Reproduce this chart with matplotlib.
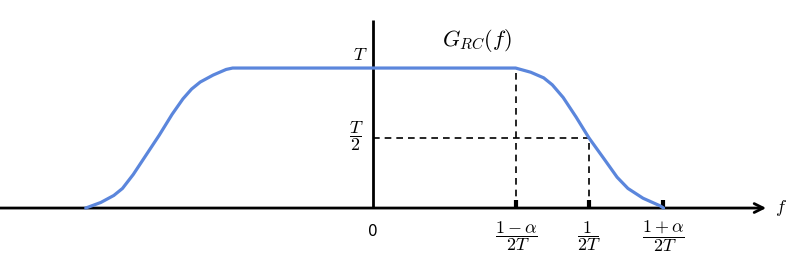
import matplotlib
matplotlib.use('Agg')
import matplotlib.pyplot as plt

plt.rcParams['mathtext.fontset'] = 'cm'

# spectrum G_RC(f), f in units of 1/(2T), G in units of T
curve_f = [-1.33, -1.26, -1.20, -1.16, -1.11, -1.05, -0.99, -0.93, -0.88,
           -0.84, -0.80, -0.74, -0.68, -0.65,
           0.66, 0.73, 0.79, 0.83, 0.88, 0.94, 1.00, 1.07, 1.13, 1.18,
           1.25, 1.33, 1.345]
curve_g = [0.0, 0.04, 0.09, 0.14, 0.24, 0.38, 0.52, 0.67, 0.78,
           0.85, 0.90, 0.95, 0.99, 1.0,
           1.0, 0.97, 0.93, 0.88, 0.79, 0.65, 0.50, 0.35, 0.22, 0.14,
           0.07, 0.015, 0.0]

tick_pos = [0.662, 1.0, 1.343]
tick_labels = [r'$\dfrac{1-\alpha}{2T}$', r'$\dfrac{1}{2T}$', r'$\dfrac{1+\alpha}{2T}$']

fig = plt.figure(figsize=(7.99, 2.66), dpi=100)
ax = fig.add_axes([0, 0, 1, 1])
ax.set_xlim(-1.727, 1.972)
ax.set_ylim(-0.414, 1.486)
ax.axis('off')

blue = '#5b86dc'

# axes
ax.annotate('', xy=(1.82, 0), xytext=(-1.727, 0),
            arrowprops=dict(arrowstyle='->', color='black', lw=2,
                            mutation_scale=16, shrinkA=0, shrinkB=0))
ax.plot([0, 0], [0, 1.34], color='black', lw=2, solid_capstyle='butt')

# dashed guides
ax.plot([tick_pos[0], tick_pos[0]], [0, 1.0], color='black', lw=1.2, ls=(0, (4, 3)))
ax.plot([tick_pos[1], tick_pos[1]], [0, 0.5], color='black', lw=1.2, ls=(0, (4, 3)))
ax.plot([0, tick_pos[1]], [0.5, 0.5], color='black', lw=1.2, ls=(0, (4, 3)))

# curve
ax.plot(curve_f, curve_g, color=blue, lw=2.3, solid_joinstyle='round',
        solid_capstyle='round', zorder=3)

# ticks and labels
for x, lab in zip(tick_pos, tick_labels):
    ax.plot([x, x], [0, 0.055], color='black', lw=3, solid_capstyle='butt')
    ax.text(x, -0.2, lab, ha='center', va='center', fontsize=13)

ax.text(0, -0.17, '0', ha='center', va='center', fontsize=11, family='DejaVu Sans')
ax.text(-0.06, 1.09, r'$T$', ha='center', va='center', fontsize=13)
ax.text(-0.075, 0.51, r'$\dfrac{T}{2}$', ha='center', va='center', fontsize=13)
ax.text(0.48, 1.2, r'$G_{RC}(f)$', ha='center', va='center', fontsize=16)
ax.text(1.86, 0.0, r'$f$', ha='left', va='center', fontsize=13)

fig.savefig('out.png', dpi=100)
